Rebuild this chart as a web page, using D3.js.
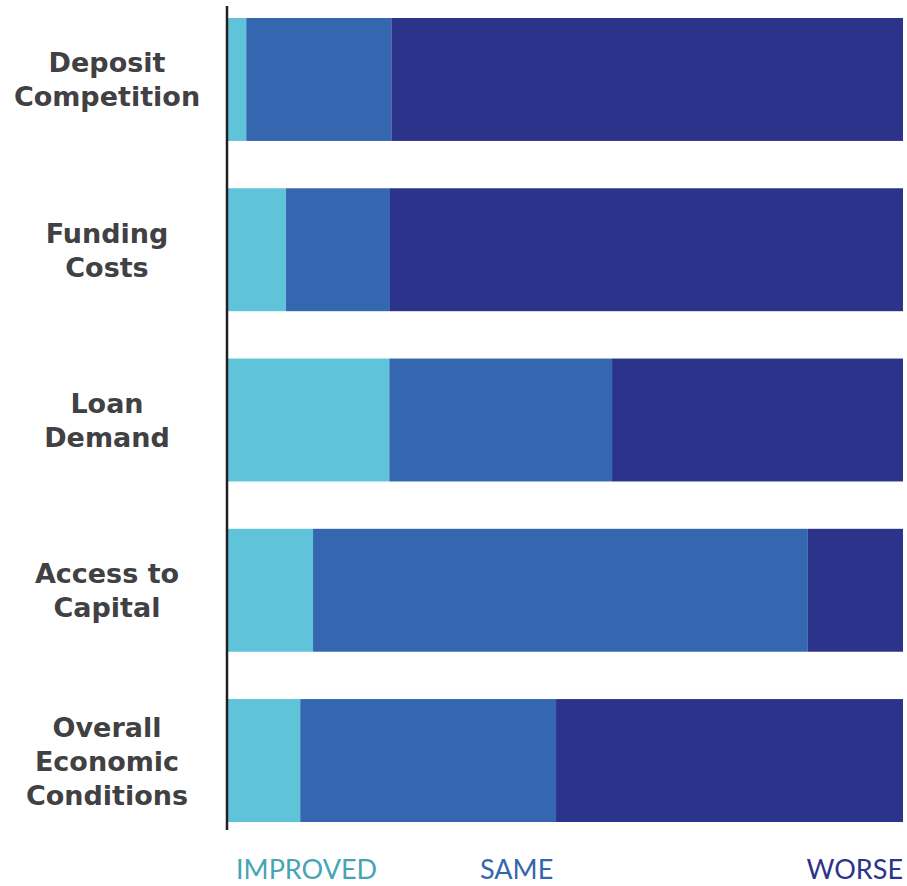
<!DOCTYPE html>
<html>
<head>
<meta charset="utf-8">
<script src="https://cdn.jsdelivr.net/npm/d3@7"></script>
<style>
  body { margin: 0; background: #fff; }
  svg { display: block; }
  .cat-label { font-family: "DejaVu Sans", sans-serif; font-weight: 700; fill: #414042; }
  .key-label { font-family: Lato, "Open Sans", sans-serif; font-weight: 400; }
</style>
</head>
<body>
<svg id="chart"></svg>
<script>
const categories = [
  ["Deposit", "Competition"],
  ["Funding", "Costs"],
  ["Loan", "Demand"],
  ["Access to", "Capital"],
  ["Overall", "Economic", "Conditions"],
];
const improved = [2.7, 8.6, 23.9, 12.6, 10.7];
const same = [21.5, 15.4, 33.0, 73.3, 37.9];
const worse = [75.8, 76.0, 43.1, 14.1, 51.4];
const seriesNames = ["IMPROVED", "SAME", "WORSE"];

const width = 907;
const height = 886;
const colors = { IMPROVED: "#5fc3d9", SAME: "#3566b0", WORSE: "#2c338b" };
const keyColors = { IMPROVED: "#45a5b6", SAME: "#3566b0", WORSE: "#2c338b" };

const svg = d3.select("#chart").attr("width", width).attr("height", height);

const rows = categories.map((c, i) => ({
  key: c.join(" "),
  lines: c,
  IMPROVED: improved[i],
  SAME: same[i],
  WORSE: worse[i],
}));

const x = d3.scaleLinear().domain([0, 100]).range([228, 903]);
const y = d3
  .scaleBand()
  .domain(rows.map((d) => d.key))
  .range([18, 822])
  .paddingInner(0.278)
  .paddingOuter(0);

const stacked = d3.stack().keys(seriesNames)(rows);

svg
  .append("g")
  .selectAll("g")
  .data(stacked)
  .enter()
  .append("g")
  .attr("fill", (s) => colors[s.key])
  .selectAll("rect")
  .data((s) => s)
  .enter()
  .append("rect")
  .attr("x", (d) => x(d[0]))
  .attr("y", (d) => y(d.data.key))
  .attr("width", (d) => x(d[1]) - x(d[0]))
  .attr("height", y.bandwidth());

// vertical axis line
svg
  .append("line")
  .attr("x1", 227)
  .attr("x2", 227)
  .attr("y1", 6)
  .attr("y2", 830)
  .attr("stroke", "#231f20")
  .attr("stroke-width", 2.5);

// category labels
const lineH = 34;
const labels = svg
  .append("g")
  .selectAll("text")
  .data(rows)
  .enter()
  .append("text")
  .attr("class", "cat-label")
  .attr("text-anchor", "middle")
  .attr("font-size", 27);

labels.each(function (d) {
  const cy = y(d.key) + y.bandwidth() / 2;
  const n = d.lines.length;
  const first = cy - ((n - 1) * lineH) / 2 + 10;
  d3.select(this)
    .selectAll("tspan")
    .data(d.lines)
    .enter()
    .append("tspan")
    .attr("x", 107)
    .attr("y", (l, i) => first + i * lineH)
    .text((l) => l);
});

// bottom key labels
const keyPos = [
  { name: "IMPROVED", x: 236, anchor: "start" },
  { name: "SAME", x: 480, anchor: "start" },
  { name: "WORSE", x: 903, anchor: "end" },
];
svg
  .append("g")
  .selectAll("text")
  .data(keyPos)
  .enter()
  .append("text")
  .attr("class", "key-label")
  .attr("x", (d) => d.x)
  .attr("y", 879)
  .attr("text-anchor", (d) => d.anchor)
  .attr("font-size", 27)
  .attr("fill", (d) => keyColors[d.name])
  .text((d) => d.name);
</script>
</body>
</html>
